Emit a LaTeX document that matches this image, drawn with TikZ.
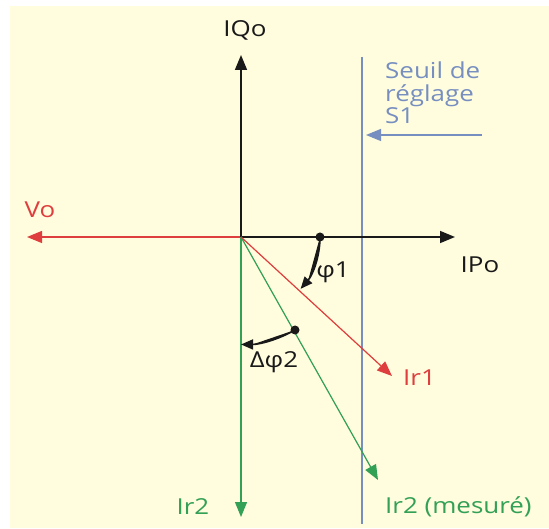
\documentclass[tikz,border=0pt]{standalone}
\usepackage{fontspec}
\setmainfont{Open Sans}[FakeStretch=1.18]
\usetikzlibrary{arrows.meta}
\definecolor{bgc}{RGB}{255,253,222}
\definecolor{redc}{RGB}{222,62,62}
\definecolor{greenc}{RGB}{50,160,85}
\definecolor{bluec}{RGB}{118,142,192}
\definecolor{axc}{RGB}{25,25,25}
\begin{document}
\begin{tikzpicture}[x=1pt,y=-1pt,
  lbl/.style={font=\fontsize{22}{22.5}\selectfont, inner sep=0pt, text=axc},
  axis/.style={draw=axc, line width=1.6pt, -{Triangle[length=15pt,width=12pt]}},
  vec/.style={line width=1.2pt, -{Triangle[length=15pt,width=12pt]}},
  arcarrow/.style={draw=axc, line width=1.6pt, -{Triangle[length=12pt,width=10pt]}},
  dotnode/.style={circle, fill=axc, inner sep=0pt, minimum size=9pt}]
\useasboundingbox (0,0) rectangle (549,529);
\fill[white] (0,0) rectangle (549,529);
\fill[bgc] (10,6) rectangle (549,528);

\coordinate (O) at (241,237);
\coordinate (qtip) at (241,55);
\coordinate (ptip) at (455,237);
\coordinate (vtip) at (27,237);
\coordinate (r1tip) at (392,376);
\coordinate (m2tip) at (378,480);
\coordinate (r2tip) at (241,517);
\coordinate (stop) at (362,57);
\coordinate (sbot) at (362,524);
\coordinate (sa) at (482,135);
\coordinate (sb) at (366,135);

% threshold line
\draw[bluec, line width=1.1pt] (stop) -- (sbot);
\draw[vec, draw=bluec, fill=bluec] (sa) -- (sb);

% Vo
\draw[vec, draw=redc, fill=redc] (O) -- (vtip);
% axes
\draw[axis, fill=axc] (O) -- (qtip);
\draw[axis, fill=axc] (O) -- (ptip);

% currents
\draw[vec, draw=greenc, fill=greenc] (O) -- (r2tip);
\draw[vec, draw=greenc, fill=greenc] (O) -- (m2tip);
\draw[vec, draw=redc, fill=redc] (O) -- (r1tip);

% angles
\node[dotnode] (d1) at (320,237) {};
\draw[arcarrow, fill=axc] (d1.center) arc[start angle=0, end angle=41, radius=79];
\node[dotnode] (d2) at (295,330) {};
\draw[arcarrow, fill=axc] (d2.center) arc[start angle=60, end angle=90, radius=108];

% labels
\node[lbl] (iqo) at (245,30) {IQo};
\node[lbl] (ipo) at (480,265) {IPo};
\node[lbl, text=redc] (vo) at (40,210) {Vo};
\node[lbl, text=bluec, anchor=west, align=left] (seuil) at (385,93) {Seuil de\\réglage\\S1};
\node[lbl, text=redc, anchor=west] (ir1) at (403,378) {Ir1};
\node[lbl, text=greenc, anchor=west] (ir2m) at (385,507) {Ir2 (mesuré)};
\node[lbl, text=greenc] (ir2) at (193,507) {Ir2};
\node[lbl] (phi1) at (333,272) {φ1};
\node[lbl] (dphi2) at (274,362) {Δφ2};
\end{tikzpicture}
\end{document}
